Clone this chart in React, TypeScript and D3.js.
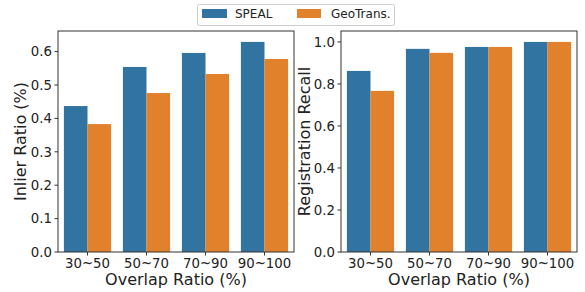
import React from "react";
import * as d3 from "d3";

const categories = ["30~50", "50~70", "70~90", "90~100"];
const seriesNames = ["SPEAL", "GeoTrans."];
const inlierSPEAL = [0.437, 0.554, 0.596, 0.629];
const inlierGeo = [0.383, 0.476, 0.533, 0.578];
const recallSPEAL = [0.862, 0.967, 0.976, 1.0];
const recallGeo = [0.767, 0.948, 0.976, 1.0];
const inlierTicks = [0.0, 0.1, 0.2, 0.3, 0.4, 0.5, 0.6];
const recallTicks = [0.0, 0.2, 0.4, 0.6, 0.8, 1.0];
const colors = ["#3274a1", "#e1812c"];

const W = 585;
const H = 292;
const FONT = "DejaVu Sans, sans-serif";

type PanelProps = {
  x0: number;
  x1: number;
  y0: number;
  y1: number;
  ymax: number;
  ticks: number[];
  a: number[];
  b: number[];
  ylabel: string;
  ylabelX: number;
  fmt: (v: number) => string;
};

function Panel({ x0, x1, y0, y1, ymax, ticks, a, b, ylabel, ylabelX, fmt }: PanelProps) {
  const x = d3.scaleBand<string>().domain(categories).range([x0, x1]).paddingInner(0).paddingOuter(0);
  const y = d3.scaleLinear().domain([0, ymax]).range([y1, y0]);
  const groupW = x.bandwidth() * 0.8;
  const sub = d3.scaleBand<string>().domain(seriesNames).range([0, groupW]);
  const data = [a, b];
  return (
    <g>
      {categories.map((c, i) =>
        data.map((s, j) => (
          <rect
            key={c + j}
            x={(x(c) as number) + x.bandwidth() * 0.1 + (sub(seriesNames[j]) as number)}
            y={y(s[i])}
            width={sub.bandwidth()}
            height={y(0) - y(s[i])}
            fill={colors[j]}
          />
        ))
      )}
      <rect x={x0} y={y0} width={x1 - x0} height={y1 - y0} fill="none" stroke="#333" strokeWidth={1} />
      {ticks.map((t) => (
        <g key={t}>
          <line x1={x0 - 3.5} x2={x0} y1={y(t)} y2={y(t)} stroke="#333" strokeWidth={1} />
          <text x={x0 - 6} y={y(t)} dy="0.36em" textAnchor="end" fontSize={13.3} fontFamily={FONT} fill="#222">
            {fmt(t)}
          </text>
        </g>
      ))}
      {categories.map((c) => {
        const cx = (x(c) as number) + x.bandwidth() / 2;
        return (
          <g key={c}>
            <line x1={cx} x2={cx} y1={y1} y2={y1 + 3.5} stroke="#333" strokeWidth={1} />
            <text x={cx} y={267.5} textAnchor="middle" fontSize={13.3} fontFamily={FONT} fill="#222">
              {c}
            </text>
          </g>
        );
      })}
      <text x={(x0 + x1) / 2} y={285} textAnchor="middle" fontSize={16} fontFamily={FONT} fill="#222">
        Overlap Ratio (%)
      </text>
      <text
        transform={`translate(${ylabelX},${(y0 + y1) / 2}) rotate(-90)`}
        textAnchor="middle"
        fontSize={16}
        fontFamily={FONT}
        fill="#222"
      >
        {ylabel}
      </text>
    </g>
  );
}

export default function App() {
  return (
    <svg width={W} height={H} style={{ position: "absolute", left: 0, top: 0, background: "#fff" }}>
      <Panel
        x0={58}
        x1={294}
        y0={31}
        y1={252}
        ymax={0.6617}
        ticks={inlierTicks}
        a={inlierSPEAL}
        b={inlierGeo}
        ylabel="Inlier Ratio (%)"
        ylabelX={25.5}
        fmt={(v) => v.toFixed(1)}
      />
      <Panel
        x0={341}
        x1={577}
        y0={31}
        y1={252}
        ymax={1.052}
        ticks={recallTicks}
        a={recallSPEAL}
        b={recallGeo}
        ylabel="Registration Recall"
        ylabelX={309.5}
        fmt={(v) => v.toFixed(1)}
      />
      <g>
        <rect x={197.5} y={4.5} width={197} height={21} rx={2} fill="#fff" stroke="#ccc" strokeWidth={1} />
        <rect x={202} y={9} width={25} height={9} fill={colors[0]} />
        <text x={235} y={18} fontSize={12} fontFamily={FONT} fill="#222">
          {seriesNames[0]}
        </text>
        <rect x={297} y={9} width={24} height={9} fill={colors[1]} />
        <text x={331} y={18} fontSize={12} fontFamily={FONT} fill="#222">
          {seriesNames[1]}
        </text>
      </g>
    </svg>
  );
}
